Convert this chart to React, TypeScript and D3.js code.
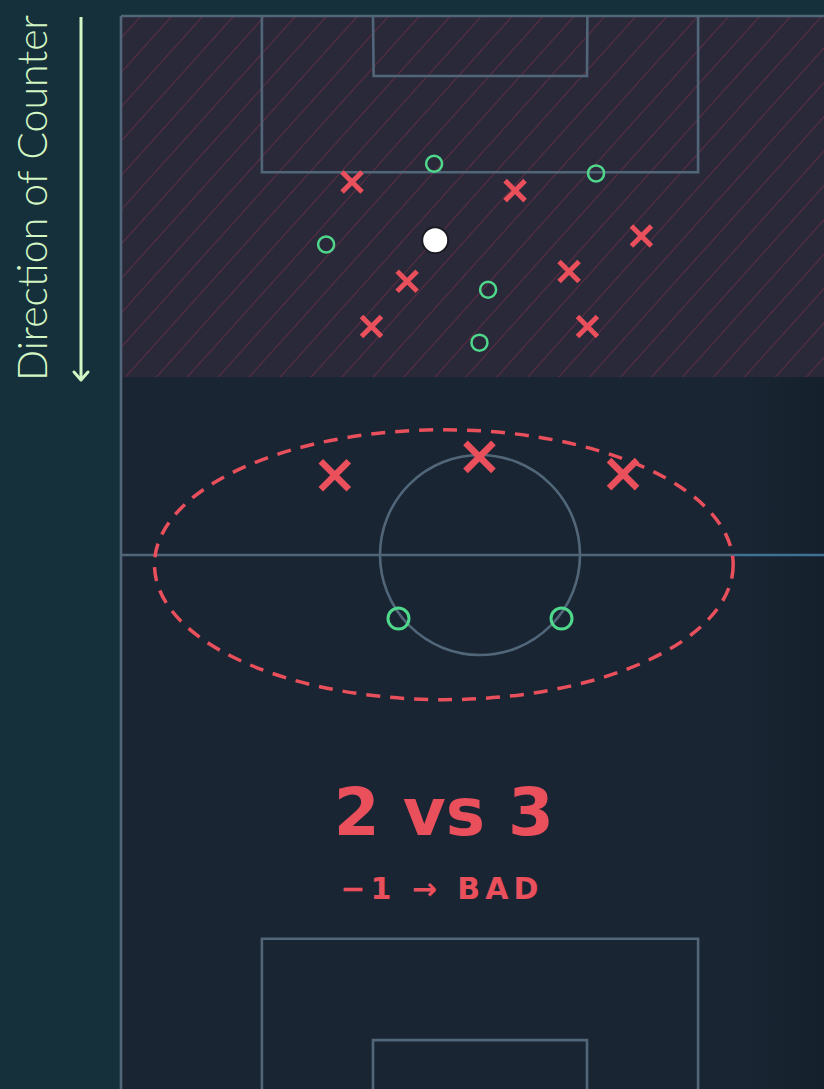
import { useEffect, useRef } from 'react'
import * as d3 from 'd3'

// pitch positions in metres (x across, y down from the top goal line)
const redTop = [
  [21.4, 15.4], [36.5, 16.2], [48.2, 20.4], [41.5, 23.7],
  [26.5, 24.6], [23.2, 28.8], [43.2, 28.8],
]
const greenTop = [
  [29.0, 13.7], [44.0, 14.6], [19.0, 21.2], [34.0, 25.4], [33.2, 30.3],
]
const ball = [29.1, 20.8]
const redMid = [[19.8, 42.6], [33.2, 40.9], [46.5, 42.5]]
const greenMid = [[25.7, 55.9], [40.8, 55.9]]
const zoneEllipse = { cx: 29.9, cy: 50.9, rx: 26.8, ry: 12.5 }
const score = '2 vs 3'
const verdict = '\u22121 \u2192 BAD'
const sideLabel = 'Direction of Counter'

const W = 824
const H = 1089

export default function App() {
  const svgRef = useRef<SVGSVGElement>(null)

  useEffect(() => {
    const svg = d3.select(svgRef.current)
    svg.selectAll('*').remove()
    svg.attr('viewBox', `0 0 ${W} ${H}`)

    const sx = d3.scaleLinear().domain([0, 66.5]).range([121, 839])
    const sy = d3.scaleLinear().domain([0, 50]).range([16, 555])
    const k = sx(1) - sx(0)

    const red = '#ea4f5c'
    const green = '#4fd88c'
    const line = '#52667a'

    const defs = svg.append('defs')
    const pat = defs.append('pattern')
      .attr('id', 'hatch')
      .attr('patternUnits', 'userSpaceOnUse')
      .attr('width', 23)
      .attr('height', 23)
      .attr('patternTransform', 'rotate(42)')
    pat.append('line')
      .attr('x1', 0).attr('y1', 0).attr('x2', 0).attr('y2', 23)
      .attr('stroke', '#8a3148').attr('stroke-opacity', 0.6).attr('stroke-width', 1.8)

    const vig = defs.append('linearGradient').attr('id', 'vig')
      .attr('x1', 0).attr('x2', 1).attr('y1', 0).attr('y2', 0)
    vig.append('stop').attr('offset', 0).attr('stop-color', '#0e1a24').attr('stop-opacity', 0)
    vig.append('stop').attr('offset', 1).attr('stop-color', '#0e1a24').attr('stop-opacity', 0.45)

    // backgrounds
    svg.append('rect').attr('width', W).attr('height', H).attr('fill', '#15303a')
    svg.append('rect')
      .attr('x', sx(0)).attr('y', sy(0))
      .attr('width', W - sx(0)).attr('height', H - sy(0))
      .attr('fill', '#1a2533')
    svg.append('rect')
      .attr('x', sx(0)).attr('y', sy(0))
      .attr('width', W - sx(0)).attr('height', sy(33.5) - sy(0))
      .attr('fill', '#29293a')
    svg.append('rect')
      .attr('x', sx(0)).attr('y', sy(0))
      .attr('width', W - sx(0)).attr('height', sy(33.5) - sy(0))
      .attr('fill', 'url(#hatch)')
    svg.append('rect')
      .attr('x', 740).attr('y', sy(33.5))
      .attr('width', W - 740).attr('height', H - sy(33.5))
      .attr('fill', 'url(#vig)')

    // pitch markings
    const g = svg.append('g').attr('fill', 'none').attr('stroke', line).attr('stroke-width', 2.6)
    g.append('line').attr('x1', sx(0)).attr('x2', sx(0)).attr('y1', sy(0)).attr('y2', H)
    g.append('line').attr('x1', sx(0)).attr('x2', W).attr('y1', sy(0)).attr('y2', sy(0))
    g.append('line').attr('x1', sx(0)).attr('x2', sx(56.7)).attr('y1', sy(50)).attr('y2', sy(50))
    g.append('line').attr('x1', sx(56.7)).attr('x2', W).attr('y1', sy(50)).attr('y2', sy(50))
      .attr('stroke', '#3f7192')
    g.append('circle').attr('cx', sx(33.25)).attr('cy', sy(50)).attr('r', 9.26 * k)
    g.append('path').attr('d', `M${sx(13.05)},${sy(0)}V${sy(14.5)}H${sx(53.45)}V${sy(0)}`)
    g.append('path').attr('d', `M${sx(23.34)},${sy(0)}L${sx(23.4)},${sy(5.57)}H${sx(43.16)}L${sx(43.2)},${sy(0)}`)
    g.append('path').attr('d', `M${sx(13.05)},${H}V${sy(85.6)}H${sx(53.45)}V${H}`)
    g.append('path').attr('d', `M${sx(23.34)},${H}V${sy(95)}H${sx(43.16)}V${H}`)

    // danger zone ellipse
    svg.append('ellipse')
      .attr('cx', sx(zoneEllipse.cx)).attr('cy', sy(zoneEllipse.cy))
      .attr('rx', zoneEllipse.rx * k).attr('ry', zoneEllipse.ry * k)
      .attr('fill', 'none').attr('stroke', red).attr('stroke-width', 3.5)
      .attr('stroke-dasharray', '14 10')

    const cross = (pts: number[][], s: number, w: number) => {
      svg.append('g').selectAll('path').data(pts).join('path')
        .attr('d', (d) => {
          const x = sx(d[0]), y = sy(d[1])
          return `M${x - s},${y - s}L${x + s},${y + s}M${x - s},${y + s}L${x + s},${y - s}`
        })
        .attr('stroke', red).attr('stroke-width', w).attr('fill', 'none')
    }
    const ring = (pts: number[][], r: number, w: number) => {
      svg.append('g').selectAll('circle').data(pts).join('circle')
        .attr('cx', (d) => sx(d[0])).attr('cy', (d) => sy(d[1])).attr('r', r)
        .attr('fill', 'none').attr('stroke', green).attr('stroke-width', w)
    }

    cross(redTop, 10, 5)
    ring(greenTop, 8, 2.5)
    cross(redMid, 14, 6.5)
    ring(greenMid, 10.5, 3)

    svg.append('circle')
      .attr('cx', sx(ball[0])).attr('cy', sy(ball[1])).attr('r', 13)
      .attr('fill', '#ffffff').attr('stroke', '#1a1a22').attr('stroke-width', 2)

    // verdict text
    svg.append('text')
      .attr('x', sx(zoneEllipse.cx)).attr('y', 835)
      .attr('text-anchor', 'middle')
      .attr('font-family', 'DejaVu Sans')
      .attr('font-weight', 700).attr('font-size', 66)
      .attr('fill', red)
      .text(score)
    svg.append('text')
      .attr('x', sx(zoneEllipse.cx) - 2).attr('y', 899)
      .attr('text-anchor', 'middle')
      .attr('font-family', 'DejaVu Sans')
      .attr('font-weight', 700).attr('font-size', 30)
      .attr('letter-spacing', 5)
      .attr('fill', red)
      .text(verdict)

    // side label + arrow
    svg.append('text')
      .attr('transform', 'translate(47,381) rotate(-90)')
      .attr('font-family', 'Lato').attr('font-weight', 300).attr('font-size', 41)
      .attr('fill', '#d3f7c4')
      .text(sideLabel)
    svg.append('line')
      .attr('x1', 81).attr('x2', 81).attr('y1', 17).attr('y2', 380)
      .attr('stroke', '#d3f7c4').attr('stroke-width', 3)
    svg.append('path')
      .attr('d', 'M74,372L81,380L88,372')
      .attr('fill', 'none').attr('stroke', '#d3f7c4').attr('stroke-width', 3)
      .attr('stroke-linecap', 'round').attr('stroke-linejoin', 'round')
  }, [])

  return (
    <svg
      ref={svgRef}
      width={W}
      height={H}
      style={{ position: 'fixed', left: 0, top: 0, display: 'block' }}
    />
  )
}
